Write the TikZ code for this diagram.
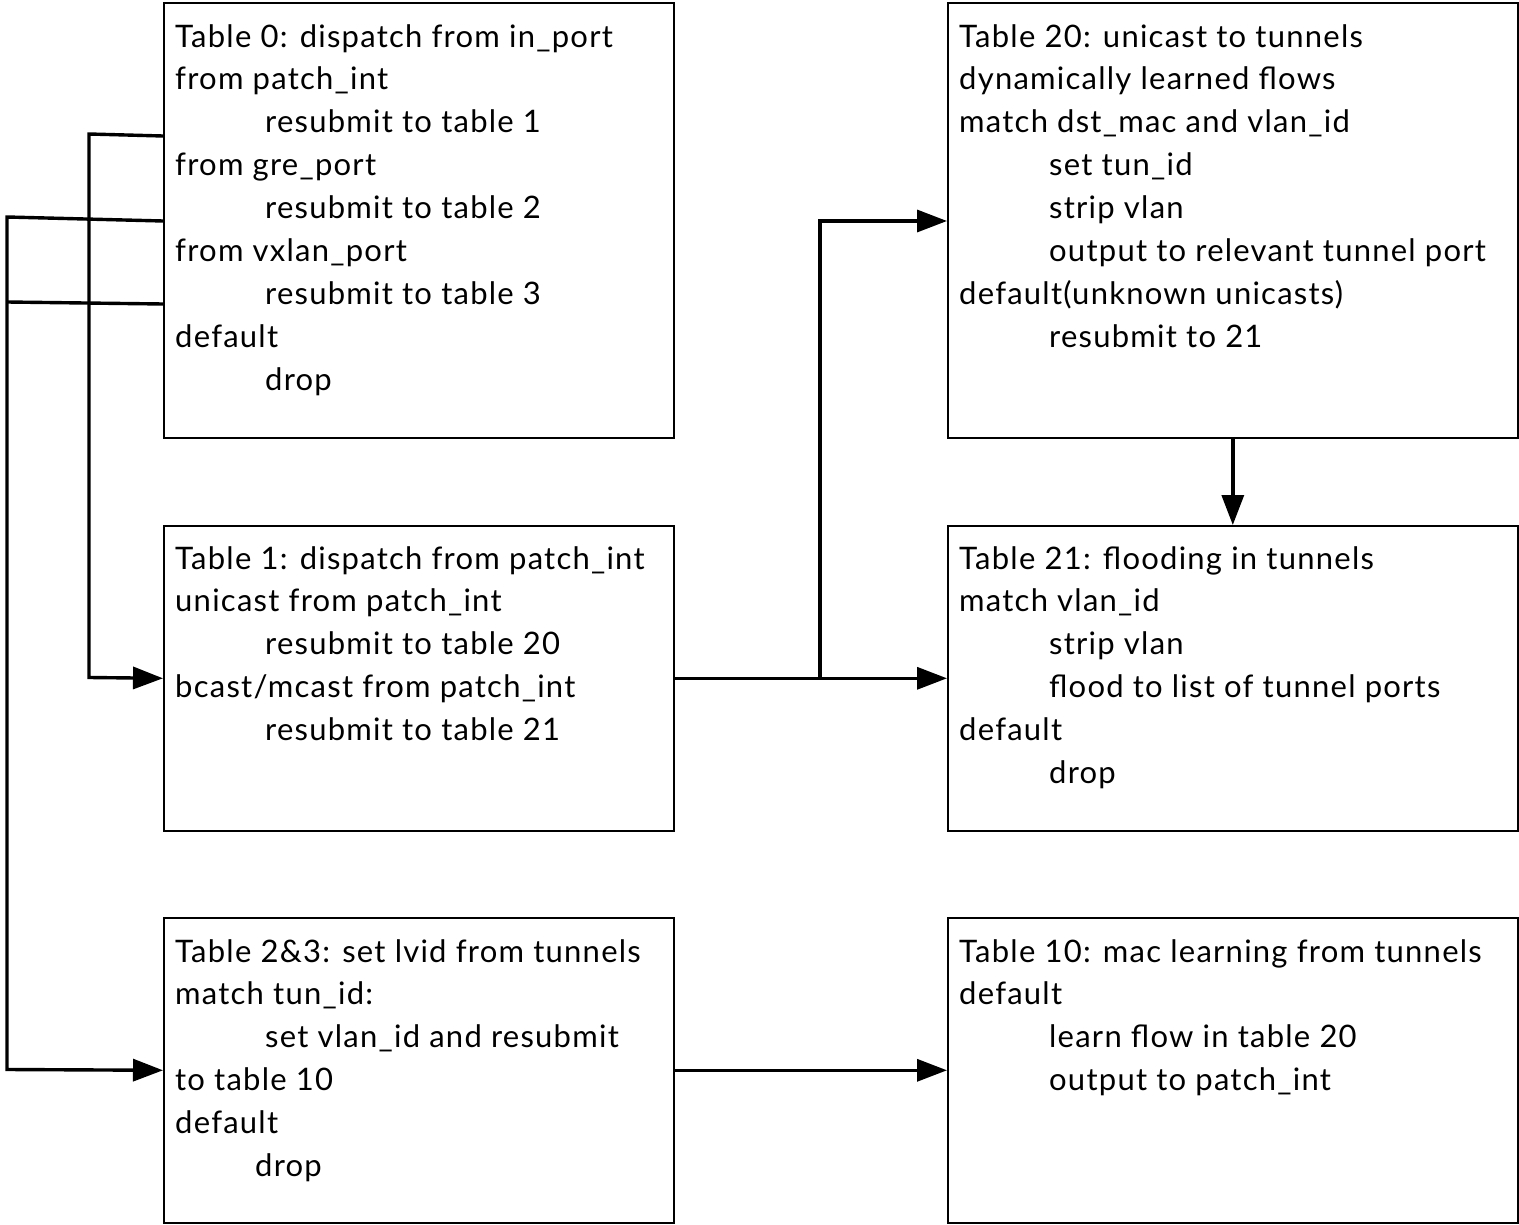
\documentclass[tikz,border=0pt]{standalone}
\usepackage{fontspec}
\setmainfont{Lato}[LetterSpace=4]
\usetikzlibrary{arrows.meta,calc}
\newcommand{\ind}{\hspace*{90pt}}
\newcommand{\indb}{\hspace*{80pt}}
\begin{document}
\begin{tikzpicture}[x=1pt,y=-1pt,
  box/.style={draw, line width=1.6pt, anchor=north west, minimum width=510pt, inner sep=0pt},
  rbox/.style={box, minimum width=570pt},
  tall/.style={minimum height=435pt},
  short/.style={minimum height=305pt},
  txt/.style={anchor=north west, align=left, inner sep=0pt, font=\fontsize{31}{42.9}\selectfont},
  conn/.style={line width=3.4pt},
  arr/.style={conn, -{Triangle[length=30pt,width=22pt]}}]
\useasboundingbox (0,0) rectangle (1519,1225);
% boxes
\node[box,tall]   (t0)  at (163,2) {};
\node[box,short]  (t1)  at (163,525) {};
\node[box,short]  (t2)  at (163,917) {};
\node[rbox,tall]  (t20) at (947,2) {};
\node[rbox,short] (t21) at (947,525) {};
\node[rbox,short] (t10) at (947,917) {};
% texts
\node[txt] (x0) at (175,24) {Table 0: dispatch from in\_port\\from patch\_int\\\ind resubmit to table 1\\from gre\_port\\\ind resubmit to table 2\\from vxlan\_port\\\ind resubmit to table 3\\default\\\ind drop};
\node[txt] (x1) at (175,546) {Table 1: dispatch from patch\_int\\unicast from patch\_int\\\ind resubmit to table 20\\bcast/mcast from patch\_int\\\ind resubmit to table 21};
\node[txt] (x2) at (175,939) {Table 2\&3: set lvid from tunnels\\match tun\_id:\\\ind set vlan\_id and resubmit\\to table 10\\default\\\indb drop};
\node[txt] (x20) at (959,24) {Table 20: unicast to tunnels\\dynamically learned flows\\match dst\_mac and vlan\_id\\\ind set tun\_id\\\ind strip vlan\\\ind output to relevant tunnel port\\default(unknown unicasts)\\\ind resubmit to 21};
\node[txt] (x21) at (959,546) {Table 21: flooding in tunnels\\match vlan\_id\\\ind strip vlan\\\ind flood to list of tunnel ports\\default\\\ind drop};
\node[txt] (x10) at (959,939) {Table 10: mac learning from tunnels\\default\\\ind learn flow in table 20\\\ind output to patch\_int};
% connectors
\coordinate (p1) at ($(t0.north west)+(0,134)$);
\coordinate (p2) at ($(t0.north west)+(0,219)$);
\coordinate (p3) at ($(t0.north west)+(0,302)$);
\coordinate (b20) at ($(t20.north west)+(0,219)$);
\draw[arr] (p1) -- (89,134) -- (89,677.5) -- (t1.west);
\draw[arr] (p2) -- (7,217) -- (7,1069.5) -- (t2.west);
\draw[conn] (p3) -- (7,302);
\draw[arr] (t1.east) -- (t21.west);
\draw[arr] (820,677.5) -- (820,221) -- (b20);
\draw[arr] (t20.south) -- (t21.north);
\draw[arr] (t2.east) -- (t10.west);
\end{tikzpicture}
\end{document}
